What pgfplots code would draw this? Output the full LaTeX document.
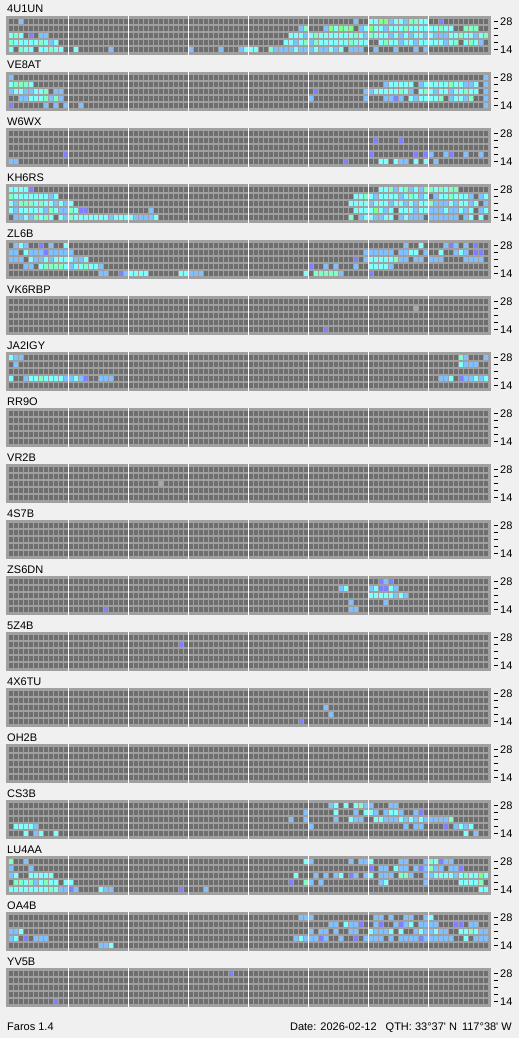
\documentclass[border=0pt]{standalone}
\usepackage{pgfplots}
\pgfplotsset{compat=1.18}
\usepackage{pgfplotstable}
\usepackage{fontspec}
\newfontfamily\lib{Liberation Sans}
\definecolor{bgc}{HTML}{F0F0F0}
\definecolor{gapc}{HTML}{A0A0A0}
\definecolor{cellc}{HTML}{6E6E6E}
\definecolor{cC}{HTML}{80FFFF}
\definecolor{cG}{HTML}{80FFC0}
\definecolor{cL}{HTML}{80FF80}
\definecolor{cB}{HTML}{80C0FF}
\definecolor{cP}{HTML}{8080FF}
\definecolor{cW}{HTML}{A8A8A8}
\newcommand\ff{\lib\fontsize{11pt}{13pt}\selectfont}
\pgfdeclareplotmark{cell}{\pgfpathrectangle{\pgfqpoint{-2pt}{-2.5pt}}{\pgfqpoint{4pt}{5pt}}\pgfusepathqfill}
\newcommand\dsh{\rule{4pt}{1pt}}
\newcommand\dshr{\rule[3.5pt]{4pt}{1pt}}
\pgfplotsset{
 panel/.style={
  anchor=north west, scale only axis, width=485pt, height=39pt,
  xmin=-0.6, xmax=96.4, ymin=-0.428571, ymax=5.142857,
  axis background/.style={fill=cellc},
  axis line style={draw=none},
  tick style={draw=none}, major tick length=0pt, minor tick length=0pt,
  xtick={-0.3,96.1}, xticklabels={},
  minor xtick={0.9,1.9,...,94.9},
  xmajorgrids, xminorgrids,
  major x grid style={gapc, line width=3pt},
  minor x grid style={gapc, line width=1pt},
  ytick={0.357143,1.357143,2.357143,3.357143,4.357143},
  yticklabels={\mbox{\dshr\hspace{2pt}14},\mbox{\dsh},\mbox{\dsh},\mbox{\dsh},\mbox{\dshr\hspace{2pt}28}},
  yticklabel pos=right,
  yticklabel style={anchor=west, inner sep=0pt, xshift=3pt, font=\ff},
  ymajorgrids=false,
  minor ytick={0.857143,1.857143,2.857143,3.857143},
  yminorgrids,
  minor y grid style={gapc, line width=2pt},
  extra y ticks={-0.214286,4.928571},
  extra y tick labels={},
  extra y tick style={grid=major, major grid style={gapc, line width=3pt}},
  title style={at={(0,1)}, anchor=base west, yshift=-3pt, xshift=1pt, inner sep=0pt, font=\ff},
 },
}
\newcommand\wl{\draw[white,line width=1pt] (axis cs:11.9,-0.428571) -- (axis cs:11.9,5.142857) (axis cs:23.9,-0.428571) -- (axis cs:23.9,5.142857) (axis cs:35.9,-0.428571) -- (axis cs:35.9,5.142857) (axis cs:47.9,-0.428571) -- (axis cs:47.9,5.142857) (axis cs:59.9,-0.428571) -- (axis cs:59.9,5.142857) (axis cs:71.9,-0.428571) -- (axis cs:71.9,5.142857) (axis cs:83.9,-0.428571) -- (axis cs:83.9,5.142857);}
\newcommand\cp[3]{\addplot[#2, only marks, mark=cell] table[x expr={\thisrow{c}==#3 ? \thisrow{k}+0.4 : -100}, y expr=\thisrow{b}+0.357143] {#1};}
\newcommand\cellplot[1]{\cp{#1}{cC}{1}\cp{#1}{cG}{2}\cp{#1}{cL}{3}\cp{#1}{cB}{4}\cp{#1}{cP}{5}\cp{#1}{cW}{6}}

% k = quarter-hour column (0..95), b = band row (0 = 14 MHz ... 4 = 28 MHz), c = colour class
\pgfplotstableread[row sep=\\]{k b c\\
2 4 4\\ 69 4 4\\ 72 4 1\\ 73 4 1\\ 74 4 3\\ 75 4 3\\ 76 4 4\\ 77 4 1\\ 78 4 1\\ 79 4 4\\ 80 4 2\\ 81 4 2\\ 82 4 1\\ 83 4 1\\ 86 4 5\\
58 3 4\\ 59 3 2\\ 63 3 4\\ 64 3 3\\ 65 3 1\\ 66 3 3\\ 67 3 2\\ 68 3 3\\ 70 3 4\\ 71 3 1\\ 72 3 3\\ 73 3 1\\ 74 3 1\\ 75 3 4\\ 76 3 1\\ 77 3 1\\ 78 3 1\\ 79 3 2\\ 80 3 1\\ 81 3 1\\ 82 3 1\\ 83 3 1\\ 84 3 1\\ 85 3 1\\ 86 3 2\\ 87 3 1\\ 88 3 1\\ 91 3 2\\ 92 3 2\\ 93 3 2\\
0 2 1\\ 1 2 2\\ 2 2 1\\ 4 2 5\\ 6 2 4\\ 7 2 4\\ 56 2 1\\ 57 2 1\\ 58 2 1\\ 59 2 4\\ 60 2 1\\ 61 2 2\\ 62 2 1\\ 63 2 1\\ 64 2 1\\ 65 2 1\\ 66 2 1\\ 67 2 1\\ 68 2 1\\ 69 2 2\\ 70 2 1\\ 71 2 4\\ 72 2 2\\ 73 2 1\\ 74 2 1\\ 75 2 1\\ 76 2 4\\ 77 2 1\\ 78 2 4\\ 79 2 1\\ 80 2 4\\ 81 2 1\\ 82 2 1\\ 83 2 4\\ 84 2 1\\ 85 2 4\\ 86 2 4\\ 87 2 4\\ 88 2 1\\ 89 2 1\\ 90 2 2\\ 91 2 1\\ 92 2 1\\ 93 2 4\\ 94 2 1\\ 95 2 2\\
0 1 2\\ 1 1 1\\ 2 1 1\\ 3 1 1\\ 4 1 1\\ 5 1 1\\ 6 1 2\\ 7 1 1\\ 8 1 4\\ 9 1 1\\ 55 1 1\\ 56 1 1\\ 57 1 4\\ 58 1 1\\ 59 1 2\\ 60 1 4\\ 61 1 2\\ 62 1 1\\ 63 1 1\\ 64 1 1\\ 65 1 1\\ 66 1 1\\ 67 1 1\\ 68 1 2\\ 69 1 1\\ 70 1 1\\ 71 1 1\\ 74 1 1\\ 75 1 2\\ 76 1 1\\ 77 1 1\\ 78 1 4\\ 79 1 1\\ 80 1 1\\ 81 1 4\\ 82 1 1\\ 83 1 1\\ 84 1 1\\ 85 1 1\\ 86 1 1\\ 87 1 4\\ 88 1 1\\ 89 1 2\\ 91 1 1\\ 92 1 2\\ 93 1 1\\ 94 1 4\\
0 0 1\\ 2 0 2\\ 3 0 1\\ 4 0 1\\ 6 0 1\\ 7 0 1\\ 8 0 2\\ 9 0 1\\ 10 0 1\\ 13 0 1\\ 20 0 4\\ 36 0 4\\ 42 0 4\\ 46 0 4\\ 47 0 1\\ 48 0 1\\ 49 0 1\\ 52 0 2\\ 53 0 4\\ 54 0 4\\ 55 0 4\\ 56 0 4\\ 57 0 1\\ 58 0 4\\ 59 0 4\\ 60 0 4\\ 61 0 1\\ 62 0 4\\ 63 0 4\\ 64 0 1\\ 65 0 4\\ 66 0 1\\ 68 0 4\\ 69 0 4\\ 70 0 4\\ 73 0 4\\ 77 0 4\\ 81 0 4\\ 83 0 4\\
}\tA
\pgfplotstableread[row sep=\\]{k b c\\
0 4 4\\ 95 4 4\\
0 3 1\\ 1 3 2\\ 2 3 2\\ 3 3 2\\ 4 3 1\\ 75 3 4\\ 76 3 1\\ 77 3 1\\ 78 3 1\\ 79 3 1\\ 80 3 1\\ 82 3 4\\ 83 3 1\\ 84 3 1\\ 85 3 1\\ 86 3 1\\ 87 3 1\\ 88 3 2\\ 89 3 1\\ 90 3 1\\ 91 3 4\\ 92 3 4\\ 93 3 1\\ 95 3 4\\
0 2 4\\ 1 2 1\\ 2 2 1\\ 3 2 4\\ 4 2 4\\ 5 2 1\\ 6 2 1\\ 7 2 2\\ 9 2 4\\ 10 2 4\\ 61 2 5\\ 71 2 4\\ 72 2 4\\ 73 2 1\\ 74 2 1\\ 75 2 1\\ 76 2 1\\ 77 2 1\\ 78 2 2\\ 79 2 1\\ 80 2 4\\ 82 2 1\\ 83 2 2\\ 84 2 1\\ 85 2 4\\ 86 2 1\\ 87 2 1\\ 88 2 4\\ 89 2 1\\ 90 2 1\\ 91 2 2\\ 92 2 1\\ 93 2 1\\ 95 2 4\\
2 1 4\\ 3 1 4\\ 4 1 1\\ 5 1 1\\ 6 1 1\\ 7 1 2\\ 8 1 4\\ 9 1 2\\ 10 1 4\\ 60 1 4\\ 71 1 4\\ 75 1 4\\ 76 1 4\\ 77 1 5\\ 78 1 4\\ 80 1 1\\ 81 1 4\\ 82 1 1\\ 83 1 1\\ 84 1 1\\ 85 1 1\\ 86 1 2\\ 88 1 4\\ 89 1 1\\ 90 1 1\\ 91 1 4\\ 92 1 2\\ 95 1 4\\
0 0 5\\ 7 0 4\\ 9 0 4\\ 11 0 4\\ 14 0 4\\ 95 0 4\\
}\tB
\pgfplotstableread[row sep=\\]{k b c\\
73 3 5\\ 78 3 5\\
11 1 5\\ 72 1 5\\ 81 1 5\\ 83 1 5\\ 84 1 4\\ 87 1 4\\ 88 1 5\\ 91 1 4\\ 94 1 4\\
0 0 4\\ 1 0 4\\ 67 0 5\\ 74 0 1\\ 75 0 1\\ 77 0 1\\ 78 0 4\\ 79 0 4\\ 81 0 1\\ 83 0 1\\ 85 0 4\\
}\tC
\pgfplotstableread[row sep=\\]{k b c\\
0 4 1\\ 1 4 1\\ 2 4 1\\ 3 4 1\\ 4 4 5\\ 74 4 1\\ 75 4 1\\ 76 4 2\\ 77 4 4\\ 78 4 1\\ 79 4 2\\ 80 4 4\\ 81 4 1\\ 82 4 4\\ 83 4 2\\ 84 4 2\\ 85 4 1\\ 86 4 2\\ 87 4 1\\ 88 4 2\\ 89 4 2\\
0 3 2\\ 1 3 1\\ 2 3 1\\ 3 3 1\\ 4 3 1\\ 5 3 1\\ 6 3 1\\ 7 3 1\\ 8 3 4\\ 9 3 1\\ 69 3 1\\ 70 3 1\\ 71 3 2\\ 72 3 1\\ 73 3 4\\ 74 3 1\\ 75 3 1\\ 76 3 1\\ 77 3 1\\ 78 3 4\\ 79 3 1\\ 80 3 2\\ 81 3 1\\ 82 3 4\\ 83 3 1\\ 85 3 4\\ 86 3 1\\ 87 3 1\\ 88 3 2\\ 89 3 1\\ 90 3 1\\ 91 3 1\\ 92 3 4\\ 94 3 4\\ 95 3 1\\
0 2 1\\ 1 2 4\\ 2 2 2\\ 3 2 2\\ 4 2 2\\ 5 2 1\\ 6 2 2\\ 7 2 1\\ 8 2 1\\ 9 2 4\\ 10 2 1\\ 11 2 4\\ 12 2 1\\ 68 2 1\\ 69 2 1\\ 70 2 1\\ 71 2 1\\ 72 2 4\\ 73 2 1\\ 74 2 1\\ 75 2 1\\ 76 2 4\\ 77 2 1\\ 78 2 1\\ 79 2 4\\ 80 2 1\\ 81 2 4\\ 82 2 1\\ 83 2 1\\ 84 2 2\\ 85 2 4\\ 86 2 4\\ 87 2 4\\ 88 2 1\\ 89 2 4\\ 90 2 1\\ 91 2 1\\ 92 2 4\\ 93 2 1\\ 95 2 4\\
0 1 1\\ 1 1 4\\ 2 1 1\\ 3 1 1\\ 4 1 1\\ 5 1 1\\ 6 1 1\\ 7 1 4\\ 8 1 2\\ 9 1 1\\ 10 1 4\\ 11 1 4\\ 12 1 2\\ 13 1 1\\ 14 1 5\\ 15 1 5\\ 28 1 4\\ 69 1 1\\ 70 1 1\\ 71 1 1\\ 72 1 1\\ 73 1 3\\ 74 1 1\\ 75 1 4\\ 76 1 1\\ 78 1 1\\ 79 1 1\\ 80 1 1\\ 81 1 4\\ 82 1 1\\ 83 1 1\\ 84 1 4\\ 85 1 4\\ 86 1 4\\ 87 1 1\\ 88 1 4\\ 89 1 4\\ 90 1 1\\ 91 1 4\\ 92 1 1\\ 94 1 4\\ 95 1 1\\
1 0 4\\ 2 0 4\\ 3 0 1\\ 4 0 4\\ 5 0 2\\ 6 0 1\\ 7 0 2\\ 8 0 1\\ 10 0 1\\ 11 0 4\\ 12 0 2\\ 13 0 1\\ 14 0 1\\ 15 0 1\\ 16 0 1\\ 17 0 1\\ 18 0 1\\ 19 0 1\\ 20 0 4\\ 21 0 1\\ 22 0 1\\ 23 0 1\\ 24 0 1\\ 25 0 4\\ 26 0 4\\ 27 0 4\\ 28 0 4\\ 29 0 1\\ 68 0 2\\ 70 0 4\\ 71 0 1\\ 72 0 1\\ 73 0 4\\ 74 0 4\\ 75 0 1\\ 76 0 1\\ 78 0 4\\ 79 0 1\\ 80 0 4\\ 81 0 4\\ 82 0 4\\ 84 0 4\\ 85 0 4\\ 86 0 4\\ 87 0 4\\ 88 0 4\\ 89 0 4\\ 91 0 4\\ 92 0 1\\ 94 0 1\\
}\tD
\pgfplotstableread[row sep=\\]{k b c\\
1 4 4\\ 2 4 1\\ 3 4 4\\ 6 4 5\\ 8 4 4\\ 11 4 1\\ 79 4 4\\ 82 4 1\\ 87 4 4\\ 88 4 5\\ 89 4 4\\ 91 4 4\\ 93 4 5\\
0 3 4\\ 1 3 4\\ 3 3 1\\ 4 3 4\\ 5 3 4\\ 6 3 4\\ 7 3 5\\ 8 3 4\\ 9 3 4\\ 10 3 4\\ 11 3 4\\ 12 3 4\\ 71 3 4\\ 72 3 4\\ 73 3 4\\ 74 3 4\\ 75 3 4\\ 76 3 4\\ 78 3 4\\ 79 3 4\\ 80 3 1\\ 81 3 1\\ 83 3 4\\ 86 3 1\\ 89 3 4\\ 90 3 1\\ 91 3 4\\ 93 3 5\\ 94 3 5\\
0 2 4\\ 1 2 4\\ 2 2 4\\ 4 2 1\\ 5 2 4\\ 6 2 4\\ 7 2 1\\ 8 2 4\\ 9 2 1\\ 10 2 1\\ 11 2 1\\ 12 2 1\\ 13 2 4\\ 14 2 4\\ 15 2 1\\ 69 2 5\\ 71 2 4\\ 72 2 1\\ 73 2 1\\ 74 2 1\\ 75 2 1\\ 76 2 1\\ 77 2 2\\ 78 2 4\\ 79 2 4\\ 81 2 4\\ 82 2 4\\ 84 2 4\\ 85 2 4\\ 86 2 4\\ 91 2 4\\ 92 2 4\\ 93 2 4\\ 94 2 4\\
3 1 4\\ 4 1 4\\ 6 1 1\\ 7 1 2\\ 8 1 2\\ 9 1 2\\ 10 1 2\\ 11 1 1\\ 12 1 4\\ 13 1 1\\ 14 1 1\\ 15 1 2\\ 16 1 1\\ 17 1 1\\ 18 1 4\\ 60 1 5\\ 63 1 4\\ 65 1 4\\ 69 1 4\\ 72 1 1\\ 73 1 1\\ 74 1 1\\ 75 1 1\\ 76 1 4\\
18 0 4\\ 19 0 4\\ 22 0 5\\ 23 0 4\\ 24 0 1\\ 25 0 1\\ 26 0 1\\ 27 0 1\\ 34 0 1\\ 35 0 1\\ 36 0 4\\ 37 0 4\\ 38 0 4\\ 59 0 1\\ 61 0 2\\ 62 0 2\\ 63 0 2\\ 64 0 2\\ 65 0 2\\ 66 0 4\\ 72 0 5\\
}\tE
\pgfplotstableread[row sep=\\]{k b c\\
81 3 6\\ 63 0 5\\
}\tF
\pgfplotstableread[row sep=\\]{k b c\\
0 4 1\\ 1 4 4\\ 2 4 4\\ 90 4 2\\ 91 4 4\\ 95 4 4\\
1 3 4\\ 90 3 1\\ 91 3 4\\ 92 3 4\\ 93 3 4\\
0 1 1\\ 3 1 4\\ 4 1 1\\ 5 1 1\\ 6 1 2\\ 7 1 1\\ 8 1 1\\ 9 1 1\\ 10 1 1\\ 11 1 4\\ 12 1 4\\ 13 1 1\\ 14 1 4\\ 15 1 5\\ 18 1 4\\ 19 1 4\\ 20 1 4\\ 86 1 4\\ 87 1 4\\ 88 1 1\\ 90 1 5\\ 91 1 4\\ 92 1 4\\ 93 1 1\\ 94 1 4\\ 95 1 1\\
}\tG
\pgfplotstableread[row sep=\\]{k b c\\
30 2 6\\
}\tH
\pgfplotstableread[row sep=\\]{k b c\\
74 4 5\\ 75 4 4\\ 76 4 5\\
66 3 4\\ 67 3 1\\ 72 3 4\\ 73 3 1\\ 74 3 5\\ 75 3 5\\ 76 3 1\\ 77 3 4\\
72 2 1\\ 73 2 1\\ 74 2 1\\ 75 2 1\\ 76 2 1\\ 77 2 4\\ 78 2 1\\ 79 2 4\\
68 1 4\\ 75 1 4\\
19 0 5\\ 68 0 4\\ 69 0 4\\
}\tI
\pgfplotstableread[row sep=\\]{k b c\\
34 3 5\\
}\tJ
\pgfplotstableread[row sep=\\]{k b c\\
63 2 4\\ 64 1 4\\ 58 0 5\\
}\tK
\pgfplotstableread[row sep=\\]{k b c\\
64 4 4\\ 65 4 1\\ 67 4 1\\ 69 4 1\\ 70 4 2\\ 71 4 4\\ 72 4 4\\ 76 4 4\\ 77 4 4\\
59 3 4\\ 65 3 1\\ 69 3 4\\ 71 3 1\\ 72 3 1\\ 73 3 4\\ 75 3 4\\ 76 3 1\\ 77 3 1\\ 78 3 4\\ 81 3 4\\ 82 3 5\\
56 2 4\\ 59 2 4\\ 65 2 4\\ 68 2 1\\ 69 2 4\\ 70 2 4\\ 73 2 1\\ 74 2 1\\ 75 2 4\\ 76 2 4\\ 77 2 4\\ 78 2 1\\ 79 2 4\\ 80 2 1\\ 81 2 4\\ 82 2 1\\ 83 2 4\\ 84 2 4\\ 85 2 4\\ 86 2 4\\ 87 2 4\\ 88 2 2\\
1 1 1\\ 2 1 1\\ 3 1 1\\ 4 1 1\\ 5 1 4\\ 60 1 4\\ 79 1 4\\ 81 1 4\\ 82 1 4\\ 87 1 5\\ 89 1 4\\ 90 1 1\\ 91 1 4\\ 92 1 1\\
3 0 1\\ 5 0 4\\ 6 0 1\\ 9 0 1\\ 91 0 1\\ 93 0 4\\
}\tL
\pgfplotstableread[row sep=\\]{k b c\\
0 4 2\\ 3 4 4\\ 59 4 1\\ 60 4 4\\ 68 4 4\\ 70 4 4\\ 71 4 4\\ 72 4 1\\ 78 4 4\\ 79 4 4\\ 83 4 4\\ 84 4 2\\ 85 4 1\\ 86 4 5\\ 87 4 4\\ 88 4 4\\
0 3 4\\ 4 3 4\\ 72 3 5\\ 74 3 4\\ 75 3 4\\ 77 3 1\\ 78 3 4\\ 79 3 4\\ 81 3 4\\ 82 3 5\\ 83 3 4\\ 84 3 2\\ 85 3 4\\ 86 3 4\\ 88 3 4\\ 89 3 4\\ 90 3 5\\
0 2 4\\ 1 2 1\\ 4 2 1\\ 5 2 1\\ 6 2 1\\ 7 2 1\\ 8 2 1\\ 57 2 1\\ 61 2 4\\ 63 2 4\\ 65 2 4\\ 66 2 1\\ 68 2 5\\ 69 2 4\\ 71 2 4\\ 72 2 1\\ 74 2 4\\ 75 2 4\\ 76 2 4\\ 78 2 2\\ 79 2 2\\ 80 2 4\\ 83 2 4\\ 84 2 4\\ 85 2 1\\ 86 2 1\\ 87 2 1\\ 88 2 1\\ 89 2 4\\ 90 2 1\\ 91 2 2\\ 92 2 1\\ 93 2 1\\ 94 2 3\\ 95 2 1\\
1 1 2\\ 2 1 2\\ 3 1 1\\ 4 1 2\\ 5 1 4\\ 6 1 1\\ 7 1 2\\ 8 1 1\\ 9 1 1\\ 11 1 1\\ 12 1 1\\ 56 1 5\\ 59 1 2\\ 60 1 4\\ 62 1 4\\ 74 1 4\\ 75 1 1\\ 83 1 4\\ 90 1 1\\ 91 1 1\\ 92 1 1\\ 93 1 1\\ 94 1 2\\
0 0 1\\ 1 0 1\\ 2 0 1\\ 3 0 1\\ 4 0 1\\ 5 0 1\\ 6 0 1\\ 7 0 1\\ 8 0 2\\ 9 0 1\\ 10 0 4\\ 11 0 4\\ 12 0 5\\ 13 0 4\\ 18 0 1\\ 19 0 4\\ 20 0 4\\ 34 0 5\\ 39 0 4\\ 94 0 1\\ 95 0 1\\
}\tM
\pgfplotstableread[row sep=\\]{k b c\\
58 4 4\\ 59 4 4\\ 60 4 4\\ 73 4 4\\ 74 4 4\\ 76 4 4\\ 79 4 4\\ 80 4 4\\ 83 4 4\\ 84 4 1\\
64 3 4\\ 65 3 4\\ 67 3 1\\ 68 3 4\\ 69 3 4\\ 70 3 5\\ 73 3 4\\ 74 3 5\\ 77 3 4\\ 78 3 5\\ 79 3 4\\ 80 3 1\\ 82 3 4\\ 83 3 4\\ 84 3 4\\ 85 3 4\\ 89 3 5\\ 90 3 5\\ 92 3 4\\ 93 3 4\\
0 2 4\\ 1 2 4\\ 2 2 1\\ 60 2 4\\ 62 2 4\\ 63 2 4\\ 65 2 4\\ 68 2 4\\ 69 2 4\\ 72 2 1\\ 73 2 4\\ 74 2 4\\ 75 2 4\\ 76 2 1\\ 78 2 1\\ 81 2 4\\ 82 2 1\\ 83 2 4\\ 84 2 4\\ 85 2 1\\ 86 2 4\\ 87 2 4\\ 90 2 1\\ 91 2 1\\ 92 2 2\\ 93 2 1\\ 94 2 4\\ 95 2 4\\
0 1 4\\ 1 1 1\\ 3 1 5\\ 5 1 4\\ 6 1 4\\ 7 1 4\\ 57 1 4\\ 58 1 1\\ 59 1 4\\ 60 1 4\\ 61 1 4\\ 62 1 5\\ 63 1 4\\ 66 1 4\\ 69 1 5\\ 71 1 4\\ 72 1 4\\ 73 1 4\\ 74 1 4\\ 76 1 4\\ 78 1 4\\ 79 1 4\\ 80 1 4\\ 81 1 4\\ 82 1 5\\ 83 1 4\\ 84 1 4\\ 85 1 4\\ 86 1 4\\ 87 1 4\\ 88 1 4\\ 91 1 1\\ 93 1 4\\ 94 1 4\\ 95 1 4\\
18 0 4\\ 19 0 4\\ 20 0 1\\
}\tN
\pgfplotstableread[row sep=\\]{k b c\\
44 4 5\\ 9 0 5\\
}\tO

\begin{document}
\begin{tikzpicture}
\fill[bgc] (0,0) rectangle (519pt,-1038pt);
\begin{axis}[panel, at={(6pt,-16pt)}, title={4U1UN}]\wl\cellplot{\tA}\end{axis}
\begin{axis}[panel, at={(6pt,-72pt)}, title={VE8AT}]\wl\cellplot{\tB}\end{axis}
\begin{axis}[panel, at={(6pt,-128pt)}, title={W6WX}]\wl\cellplot{\tC}\end{axis}
\begin{axis}[panel, at={(6pt,-184pt)}, title={KH6RS}]\wl\cellplot{\tD}\end{axis}
\begin{axis}[panel, at={(6pt,-240pt)}, title={ZL6B}]\wl\cellplot{\tE}\end{axis}
\begin{axis}[panel, at={(6pt,-296pt)}, title={VK6RBP}]\wl\cellplot{\tF}\end{axis}
\begin{axis}[panel, at={(6pt,-352pt)}, title={JA2IGY}]\wl\cellplot{\tG}\end{axis}
\begin{axis}[panel, at={(6pt,-408pt)}, title={RR9O}]\wl\end{axis}
\begin{axis}[panel, at={(6pt,-464pt)}, title={VR2B}]\wl\cellplot{\tH}\end{axis}
\begin{axis}[panel, at={(6pt,-520pt)}, title={4S7B}]\wl\end{axis}
\begin{axis}[panel, at={(6pt,-576pt)}, title={ZS6DN}]\wl\cellplot{\tI}\end{axis}
\begin{axis}[panel, at={(6pt,-632pt)}, title={5Z4B}]\wl\cellplot{\tJ}\end{axis}
\begin{axis}[panel, at={(6pt,-688pt)}, title={4X6TU}]\wl\cellplot{\tK}\end{axis}
\begin{axis}[panel, at={(6pt,-744pt)}, title={OH2B}]\wl\end{axis}
\begin{axis}[panel, at={(6pt,-800pt)}, title={CS3B}]\wl\cellplot{\tL}\end{axis}
\begin{axis}[panel, at={(6pt,-856pt)}, title={LU4AA}]\wl\cellplot{\tM}\end{axis}
\begin{axis}[panel, at={(6pt,-912pt)}, title={OA4B}]\wl\cellplot{\tN}\end{axis}
\begin{axis}[panel, at={(6pt,-968pt)}, title={YV5B}]\wl\cellplot{\tO}\end{axis}
\node[anchor=base west, inner sep=0pt, font=\ff] at (7pt,-1030pt) {Faros 1.4};
\node[anchor=base east, inner sep=0pt, font=\ff] at (512pt,-1030pt) {Date: 2026-02-12\hspace{9pt}QTH: 33°37' N\hspace{2pt} 117°38' W};
\pgfresetboundingbox
\useasboundingbox (0,0) rectangle (519pt,-1038pt);
\end{tikzpicture}
\end{document}
